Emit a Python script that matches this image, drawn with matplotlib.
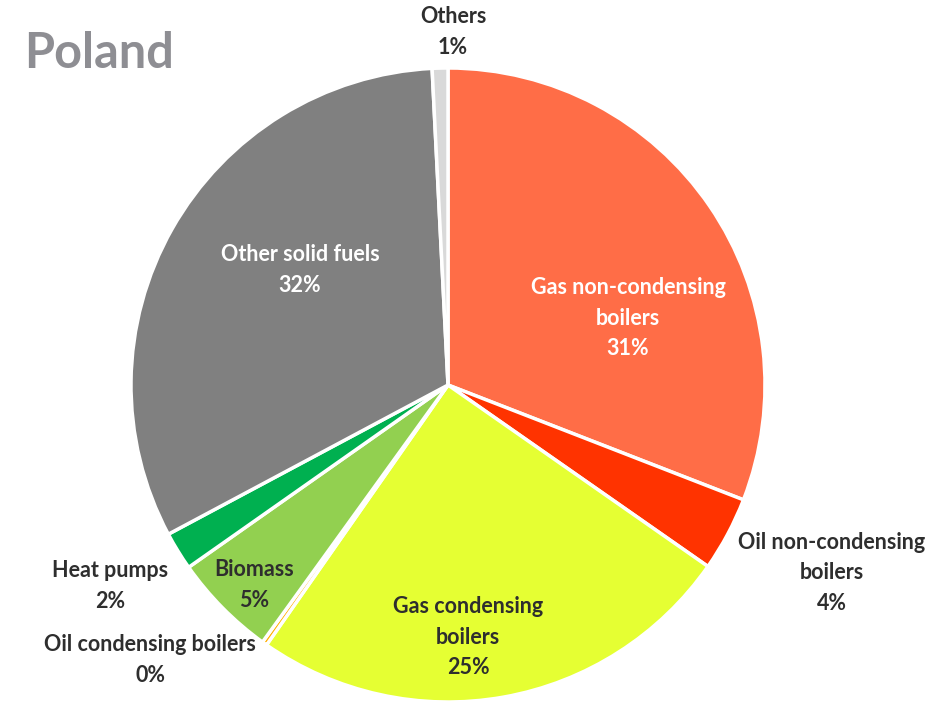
import matplotlib
matplotlib.use("Agg")
import matplotlib.pyplot as plt
import numpy as np

plt.rcParams['font.family'] = ['Lato', 'DejaVu Sans']

categories = ["Gas non-condensing\nboilers", "Oil non-condensing\nboilers",
              "Gas condensing\nboilers", "Oil condensing boilers", "Biomass",
              "Heat pumps", "Other solid fuels", "Others"]
values = [30.9, 3.8, 25.0, 0.25, 5.3, 1.95, 32.0, 0.8]
pct_labels = ["31%", "4%", "25%", "0%", "5%", "2%", "32%", "1%"]
colors = ["#FF6D47", "#FF3300", "#E5FF33", "#FFB000", "#92D050",
          "#00B050", "#808080", "#D9D9D9"]
text_colors = ["white", "#2E2E2E", "#2E2E2E", "#2E2E2E", "#2E2E2E",
               "#2E2E2E", "white", "#2E2E2E"]
label_pos = [(0.568, 0.211), (1.211, -0.593), (0.063, -0.795), (-0.940, -0.868),
             (-0.612, -0.631), (-1.066, -0.634), (-0.467, 0.363), (0.016, 1.114)]

fig = plt.figure(figsize=(9.49, 7.05), dpi=100)
ax = fig.add_axes([131/949, 3/705, 634/949, 634/705])
ax.pie(values, colors=colors, startangle=90, counterclock=False,
       radius=1.0, wedgeprops=dict(edgecolor="white", linewidth=2.5))
ax.set_xlim(-1, 1)
ax.set_ylim(-1, 1)
ax.set_aspect('equal')

for cat, p, tc, (x, y) in zip(categories, pct_labels, text_colors, label_pos):
    ax.text(x, y, f"{cat}\n{p}", ha='center', va='center', fontsize=15.5,
            fontweight='bold', color=tc, linespacing=1.55, clip_on=False)

fig.text(24/949, 1 - 53/705, "Poland", fontsize=35, fontweight='bold',
         color="#8E8E93", ha='left', va='center')

fig.savefig("out.png", dpi=100)
